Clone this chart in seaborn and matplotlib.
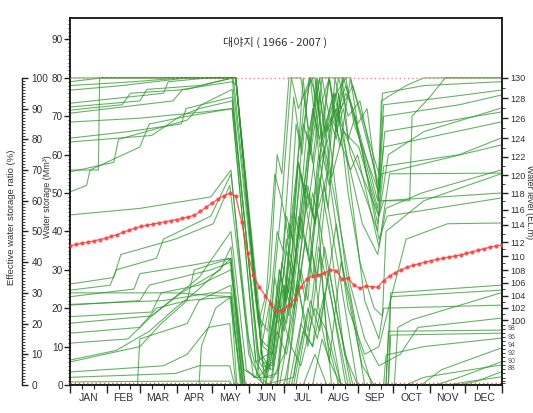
import matplotlib
matplotlib.use("Agg")
import matplotlib.pyplot as plt
import numpy as np
import pandas as pd
import seaborn as sns
from matplotlib.ticker import FixedLocator, NullFormatter, FixedFormatter
import matplotlib.transforms as mtransforms

# ---------------- data ----------------
title = "대야지 ( 1966 - 2007 )"
months = ["JAN", "FEB", "MAR", "APR", "MAY", "JUN", "JUL", "AUG", "SEP", "OCT", "NOV", "DEC"]
month_starts = [1, 32, 60, 91, 121, 152, 182, 213, 244, 274, 305, 335, 366]

line01 = [(1,80),(141,80),(158,22),(163,15),(170,28),(176,60),(180,55),(186,80),(196,80),(203,66),(212,80),(232,80),(240,72),(261,48),(264,74),(285,78),(300,80),(365,80)]
line02 = [(1,79),(28,80),(141,80),(163,8),(170,4),(178,30),(183,22),(192,68),(197,60),(203,80),(208,80),(214,62),(220,70),(226,64),(232,80),(238,80),(262,52),(265,76),(300,78),(365,79)]
line03 = [(1,78),(55,79),(95,80),(141,80),(160,18),(168,14),(176,40),(181,35),(190,75),(196,62),(204,80),(210,74),(218,56),(225,80),(230,72),(240,78),(262,55),(266,73),(320,75),(365,76.8)]
line04 = [(1,76.8),(45,78),(100,80),(141,80),(164,10),(172,8),(184,35),(190,28),(206,72),(212,64),(220,80),(226,70),(234,78),(261,46),(266,70),(330,73),(365,75.5)]
line05 = [(1,73.4),(50,75),(80,76),(84,79),(118,80),(141,80),(165,2),(176,3),(190,45),(196,38),(210,80),(216,66),(224,76),(230,68),(262,44),(270,60),(300,66),(365,72.1)]
line06 = [(1,72.4),(60,74),(66,77),(110,78),(139,80),(162,12),(168,10),(180,48),(186,38),(200,76),(206,80),(212,62),(222,74),(234,80),(241,68),(262,50),(267,66),(365,71.1)]
line07 = [(1,71.6),(45,73),(52,76),(100,77),(138,80),(160,16),(167,24),(174,55),(180,48),(188,80),(194,72),(204,80),(212,58),(219,64),(228,80),(236,70),(246,74),(262,50),(266,62),(365,68.5)]
line08 = [(1,70.8),(88,74),(96,77),(138,79),(142,78),(164,5),(172,4),(182,26),(188,20),(200,52),(206,44),(220,80),(226,68),(234,76),(240,72),(261,42),(266,57),(330,60),(365,64.3)]
line09 = [(1,68.5),(60,69.5),(110,71),(138,72),(158,6),(166,2),(178,30),(184,22),(196,55),(202,46),(214,74),(220,80),(226,66),(232,72),(238,60),(261,40),(264,55),(365,62.5)]
line10 = [(1,64.3),(50,66),(95,68),(99,72),(138,75),(160,8),(168,4),(180,25),(186,18),(198,68),(204,62),(212,80),(218,66),(226,72),(248,42),(261,34),(268,46),(298,50),(365,56)]
line11 = [(1,63.3),(70,65),(94,70),(110,72),(138,74),(161,6),(167,3),(174,28),(180,18),(194,58),(200,50),(209,80),(214,64),(222,70),(238,56),(244,60),(262,36),(271,55),(365,55.2)]
line12 = [(1,56),(25,56),(26,80),(141,80),(164,6),(172,5),(184,44),(189,38),(198,80),(204,60),(212,76),(222,54),(232,66),(245,62),(262,44),(266,48),(365,50)]
line13 = [(1,55.5),(38,58),(42,64),(100,69),(112,73),(138,77),(161,2),(170,0),(182,8),(196,30),(202,22),(213,62),(220,52),(231,80),(236,64),(242,70),(262,38),(269,44),(310,46),(365,48.7)]
line14 = [(1,50.3),(15,52),(18,56),(60,62),(68,68),(100,70),(138,72),(158,6),(168,8),(184,38),(190,30),(204,64),(211,46),(219,56),(236,20),(250,8),(262,10),(275,26),(285,38),(320,42),(365,42.2)]
line15 = [(1,44.3),(60,46),(120,49),(137,56),(152,8),(164,0),(190,2),(205,35),(210,28),(224,72),(229,62),(238,80),(244,68),(252,72),(262,48),(288,48),(290,70),(305,75),(318,80),(365,80)]
line16 = [(1,26.3),(38,28),(44,34),(90,38),(122,42),(136,52),(149,18),(156,2),(172,2),(184,26),(190,20),(202,50),(208,42),(219,68),(225,52),(234,30),(246,10),(256,0),(268,0),(272,24),(365,26)]
line17 = [(1,24.7),(35,26),(40,30),(74,33),(80,38),(120,44),(137,55),(152,12),(160,2),(172,6),(180,32),(186,24),(194,58),(203,42),(212,18),(220,6),(230,32),(238,22),(250,0),(365,0)]
line18 = [(1,24),(90,24),(136,23),(146,0),(176,0),(186,28),(192,22),(206,50),(212,42),(222,22),(234,0),(270,0),(272,23),(365,24.7)]
line19 = [(1,23),(55,25),(60,29),(100,31),(136,33),(148,4),(158,2),(170,22),(177,16),(186,42),(192,34),(201,66),(206,58),(214,80),(220,70),(226,76),(236,50),(246,32),(258,20),(265,18),(268,40),(300,48),(365,55)]
line20 = [(1,21),(80,22),(120,24),(137,24),(145,0),(188,0),(198,14),(206,10),(216,36),(226,20),(238,0),(365,0)]
line21 = [(1,20.8),(60,22),(68,26),(120,30),(137,32),(149,0),(164,0),(175,20),(182,14),(192,34),(200,22),(210,46),(218,12),(228,0),(268,0),(270,14),(365,14.3)]
line22 = [(1,17.8),(70,19),(78,24),(110,26),(137,30),(147,0),(178,0),(186,14),(194,44),(202,34),(211,60),(219,46),(228,76),(236,56),(250,22),(262,12),(266,20),(365,20.8)]
line23 = [(1,16.1),(70,18),(86,22),(110,28),(137,40),(150,4),(166,0),(176,14),(184,8),(194,26),(202,10),(212,34),(222,0),(365,0)]
line24 = [(1,13.5),(60,15),(74,20),(100,22),(137,23),(142,0),(182,0),(188,10),(196,5),(208,20),(218,14),(230,0),(270,0),(272,13),(365,13.5)]
line25 = [(1,10.9),(50,12),(70,18),(95,24),(128,30),(137,36),(149,0),(176,0),(186,32),(192,24),(202,52),(208,42),(216,62),(224,50),(238,26),(250,12),(262,5),(280,8),(295,15),(365,17.4)]
line26 = [(1,6.5),(40,9),(68,14),(90,20),(110,25),(137,33),(148,0),(170,0),(180,18),(188,10),(200,38),(206,28),(216,52),(228,30),(244,0),(365,0)]
line27 = [(1,6),(60,10),(78,16),(100,22),(106,30),(137,33),(147,0),(192,0),(204,22),(212,14),(226,42),(234,26),(248,5),(258,0),(266,0),(268,7.8),(300,10),(365,12.2)]
line28 = [(1,3.4),(80,5),(100,8),(118,15),(136,16),(141,0),(190,0),(202,20),(210,12),(220,30),(228,16),(240,0),(298,0),(315,4),(365,9.6)]
line29 = [(1,2),(90,3),(110,5),(136,5),(140,0),(206,0),(214,12),(222,5),(230,0),(310,0),(330,2),(365,6)]
line30 = [(1,0.8),(100,1),(136,1),(138,0),(365,0)]
line31 = [(1,0),(58,0),(60,12),(100,16),(110,22),(137,26),(147,0),(166,0),(176,22),(184,16),(196,44),(203,32),(212,54),(220,40),(233,8),(244,0),(275,0),(278,15),(290,17),(365,24)]
line32 = [(1,0),(110,0),(112,10),(124,20),(137,23),(146,0),(184,0),(193,26),(202,14),(211,36),(222,22),(236,0),(285,0),(300,2),(320,3),(365,5.2)]
line33 = [(1,0),(140,0),(186,0),(196,16),(206,10),(216,24),(230,0),(330,0),(345,1),(365,3.4)]
line34 = [(1,0),(198,0),(208,8),(218,0),(320,0),(340,1),(365,2.1)]

mean_days = list(range(1, 367, 5))
mean_vals = [36.3, 36.6, 36.9, 37.2, 37.5, 37.9, 38.2, 38.7, 39.2, 39.8,
             40.3, 40.9, 41.3, 41.6, 41.9, 42.2, 42.5, 42.8, 43.1, 43.4,
             43.8, 44.2, 45.2, 46.3, 47.4, 48.4, 49.3, 49.9, 49.2, 42.5,
             34.5, 28.6, 25.5, 23.3, 21.0, 19.2, 19.6, 20.8, 22.3, 25.5,
             27.6, 28.4, 28.6, 29.2, 30.0, 29.8, 27.5, 27.8, 26.0, 25.2,
             25.8, 25.6, 25.5, 27.2, 28.4, 29.3, 30.0, 30.7, 31.2, 31.6,
             32.0, 32.4, 32.7, 33.0, 33.3, 33.6, 33.9, 34.3, 34.7, 35.1,
             35.5, 35.9, 36.2, 36.5][:len(mean_days)]

# water level scale (EL.m) and the storage each level corresponds to
level_ticks = [130, 128, 126, 124, 122, 120, 118, 116, 114, 112, 110, 108, 106, 104,
               102, 100]
level_storage = [80, 74.7, 69.5, 64.3, 59.4, 54.7, 50.0, 45.6, 41.7, 37.2, 33.6, 29.9, 26.6,
                 23.2, 20.1, 16.9]
low_level_ticks = [98, 96, 94, 92, 90, 88]
low_level_storage = [14.6, 12.5, 10.4, 8.3, 6.2, 4.2]
low_level_minor = [3.0, 1.9, 1.0, 0.4]

all_lines = [line01, line02, line03, line04, line05, line06, line07, line08, line09, line10,
             line11, line12, line13, line14, line15, line16, line17, line18, line19, line20,
             line21, line22, line23, line24, line25, line26, line27, line28, line29, line30,
             line31, line32, line33, line34]

# ---------------- figure ----------------
sns.set_style("white")
plt.rcParams["font.family"] = ["Liberation Sans", "DejaVu Sans"]

fig = plt.figure(figsize=(5.33, 4.13), dpi=100)
L, R, B, T = 70, 502, 385, 18
W, H = 533, 413
ax = fig.add_axes([L / W, 1 - B / H, (R - L) / W, (B - T) / H])
YMAX = 95.6
ax.set_xlim(1, 366)
ax.set_ylim(0, YMAX)

rows = []
for i, pts in enumerate(all_lines):
    for d, v in pts:
        rows.append({"unit": i, "day": d, "value": v})
df = pd.DataFrame(rows)

sns.lineplot(data=df, x="day", y="value", units="unit", estimator=None, sort=False,
             color="#2a962a", linewidth=0.8, alpha=0.72, ax=ax, legend=False)

ax.axhline(80, color="#ff8080", ls=(0, (1, 2)), lw=1.0, zorder=5)
ax.axhline(0.4, color="#ff5050", ls=(0, (1, 2)), lw=1.0, zorder=5)

sns.lineplot(x=mean_days, y=mean_vals, ax=ax, color="#ff3b3b", marker="o", markersize=3.0,
             markeredgewidth=0, linewidth=0.9, alpha=0.85, zorder=6)

for s in ax.spines.values():
    s.set_visible(True)
    s.set_color("#111111")
    s.set_linewidth(1.3)

# x axis
ax.xaxis.set_major_locator(FixedLocator(month_starts))
ax.xaxis.set_major_formatter(NullFormatter())
dekads = [ms + k for ms in month_starts[:-1] for k in (10, 20)]
ax.xaxis.set_minor_locator(FixedLocator(dekads))
ax.tick_params(axis="x", which="major", direction="out", length=6, width=1, color="#222", bottom=True)
ax.tick_params(axis="x", which="minor", direction="out", length=3, width=0.8, color="#222", bottom=True)
trans = mtransforms.blended_transform_factory(ax.transData, ax.transAxes)
for i, m in enumerate(months):
    mid = (month_starts[i] + month_starts[i + 1]) / 2
    ax.text(mid, -0.036, m, transform=trans, ha="center", va="center", fontsize=7.5, color="#333")
ax.set_xlabel("")

# left main axis
ax.yaxis.set_major_locator(FixedLocator(list(range(0, 91, 10))))
ax.yaxis.set_minor_locator(FixedLocator(list(range(0, 96))))
ax.tick_params(axis="y", which="major", direction="out", length=4, width=1, color="#222",
               labelsize=7.2, labelcolor="#333", left=True, pad=1)
ax.tick_params(axis="y", which="minor", direction="out", length=1.8, width=0.6, color="#222", left=True)
ax.set_ylabel("")

# ratio axis (far left)
axr = ax.twinx()
axr.set_ylim(0, YMAX * 100 / 80)
for k in ("top", "bottom", "left"):
    axr.spines[k].set_visible(False)
axr.spines["right"].set_position(("axes", (22 - L) / (R - L)))
axr.spines["right"].set_bounds(0, 100)
axr.spines["right"].set_color("#222")
axr.spines["right"].set_linewidth(1.0)
axr.yaxis.set_major_locator(FixedLocator(list(range(0, 101, 10))))
axr.yaxis.set_minor_locator(FixedLocator(list(range(0, 101))))
axr.tick_params(axis="y", which="major", direction="out", length=4, width=1, color="#222",
                labelsize=7.2, labelcolor="#333", right=True, pad=3)
axr.tick_params(axis="y", which="minor", direction="out", length=1.8, width=0.6, color="#222", right=True)
axr.patch.set_visible(False)

# water level axis (right)
axl = ax.twinx()
axl.set_ylim(0, YMAX)
for k in ("top", "bottom", "left", "right"):
    axl.spines[k].set_visible(False)
axl.yaxis.set_major_locator(FixedLocator(level_storage))
axl.yaxis.set_major_formatter(FixedFormatter([str(v) for v in level_ticks]))
all_pos = level_storage + low_level_storage
mids = [(a + b) / 2 for a, b in zip(all_pos[:-1], all_pos[1:])] + low_level_storage + low_level_minor
axl.yaxis.set_minor_locator(FixedLocator(mids))
axl.tick_params(axis="y", which="major", direction="out", length=4, width=1, color="#222",
                labelsize=6.6, labelcolor="#333", right=True, pad=2)
axl.tick_params(axis="y", which="minor", direction="out", length=2, width=0.6, color="#222", right=True)
axl.patch.set_visible(False)
ytr = mtransforms.blended_transform_factory(axl.transAxes, axl.transData)
for lev, pos in zip(low_level_ticks, low_level_storage):
    axl.text(1.0 + 6 / (R - L), pos, str(lev), transform=ytr, ha="left", va="center",
             fontsize=5.0, color="#555")

# labels
fig.text(12 / W, 1 - 217 / H, "Effective water storage ratio (%)", rotation=90,
         ha="center", va="center", fontsize=6.8, color="#333")
fig.text(47.5 / W, 1 - 197 / H, "Water storage (Mm\u00b3)", rotation=90,
         ha="center", va="center", fontsize=6.5, color="#333")
fig.text(529.5 / W, 1 - 202 / H, "Water level (EL.m)", rotation=270,
         ha="center", va="center", fontsize=6.5, color="#333")

ax.text((275 - L) / (R - L), (B - 42) / (B - T), title, transform=ax.transAxes,
        ha="center", va="center", fontsize=8, color="#333",
        family=["Noto Sans CJK KR", "DejaVu Sans"])

fig.savefig("out.png", dpi=100)
